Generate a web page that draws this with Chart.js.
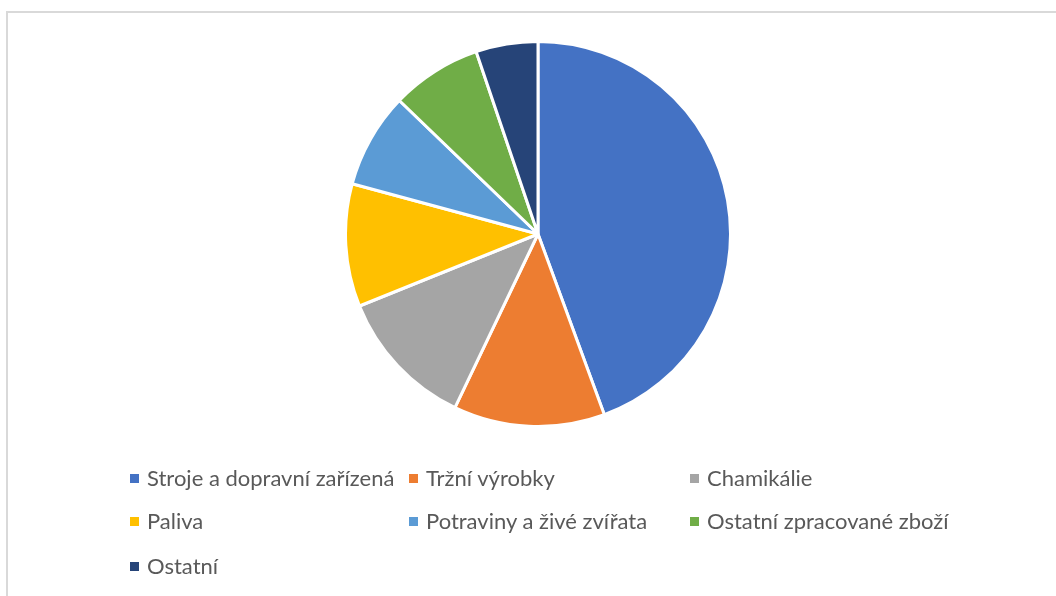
<!DOCTYPE html>
<html><head><meta charset="utf-8">
<script src="https://cdn.jsdelivr.net/npm/chart.js@4/dist/chart.umd.min.js"></script>
<style>
html,body{margin:0;padding:0;background:#fff;width:1056px;height:596px;overflow:hidden;position:relative;}
#frame{position:absolute;left:6px;top:11px;width:1200px;height:800px;border-left:2px solid #d9d9d9;border-top:2px solid #d9d9d9;}
#wrap{position:absolute;left:344px;top:40px;width:388px;height:388px;}
#legend{position:absolute;left:0;top:0;width:1056px;height:596px;font-family:Lato,"Open Sans",sans-serif;font-size:22px;color:#595959;}
.item{position:absolute;white-space:nowrap;line-height:24px;height:24px;}
.mk{position:absolute;width:9px;height:9px;top:8px;left:0;}
.tx{position:absolute;left:17px;top:0;}
</style></head>
<body>
<div id="frame"></div>
<div id="wrap"><canvas id="c" width="388" height="388"></canvas></div>
<div id="legend"></div>
<script>
const categories = ["Stroje a dopravní zařízená","Tržní výrobky","Chamikálie","Paliva","Potraviny a živé zvířata","Ostatní zpracované zboží","Ostatní"];
const values = [44.4, 12.7, 11.8, 10.3, 8.0, 7.6, 5.2];
const colors = ["#4472C4","#ED7D31","#A5A5A5","#FFC000","#5B9BD5","#70AD47","#264478"];

new Chart(document.getElementById('c'), {
  type: 'pie',
  data: { labels: categories, datasets: [{ data: values, backgroundColor: colors, borderColor: '#ffffff', borderWidth: 3, hoverOffset: 0 }] },
  options: {
    responsive: false, animation: false,
    layout: { padding: 0 },
    plugins: { legend: { display: false }, tooltip: { enabled: false } }
  }
});

const colX = [130, 409, 690];
const rowY = [466, 509, 554];
const lg = document.getElementById('legend');
categories.forEach((name, i) => {
  const d = document.createElement('div');
  d.className = 'item';
  d.style.left = colX[i % 3] + 'px';
  d.style.top = rowY[Math.floor(i / 3)] + 'px';
  const m = document.createElement('span'); m.className = 'mk'; m.style.background = colors[i];
  const t = document.createElement('span'); t.className = 'tx'; t.textContent = name;
  d.appendChild(m); d.appendChild(t); lg.appendChild(d);
});
</script>
</body></html>
